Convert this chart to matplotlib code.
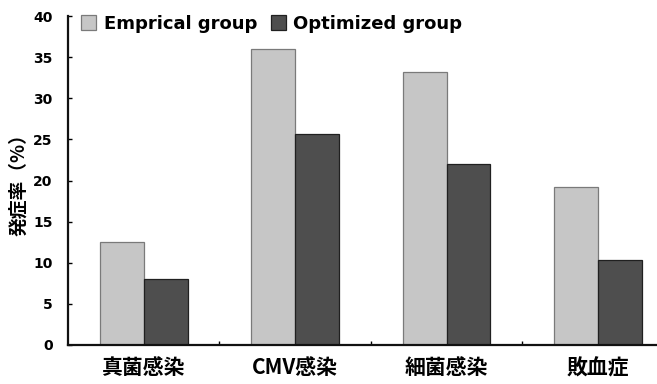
import numpy as np
import matplotlib
matplotlib.use("Agg")
import matplotlib.pyplot as plt
from matplotlib.patches import Patch

# incidence by infection type (%)
categories = ["真菌感染", "CMV感染", "細菌感染", "敗血症"]
empirical = [12.5, 36.0, 33.2, 19.2]
optimized = [8.0, 25.7, 22.0, 10.3]
series_names = ["Emprical group", "Optimized group"]
y_ticks = [0, 5, 10, 15, 20, 25, 30, 35, 40]

light = "#c6c6c6"
dark = "#4e4e4e"
cjk = ["Noto Sans CJK JP", "DejaVu Sans"]

fig = plt.figure(figsize=(6.57, 3.84), dpi=100)
ax = fig.add_axes([68 / 657, 39 / 384, 589 / 657, 329 / 384])

x = np.arange(len(categories))
w = 0.29
ax.bar(x - w / 2, empirical, w, color=light, edgecolor="#7a7a7a", linewidth=0.9)
ax.bar(x + w / 2, optimized, w, color=dark, edgecolor="#202020", linewidth=0.9)

ax.set_xlim(-0.5, 3.39)
ax.set_ylim(0, 40)

for side in ["top", "right"]:
    ax.spines[side].set_visible(False)
for side in ["left", "bottom"]:
    ax.spines[side].set_linewidth(1.6)
    ax.spines[side].set_color("#111111")

# y axis: short inward ticks, bold digits
ax.set_yticks(y_ticks)
ax.set_yticklabels([str(v) for v in y_ticks], fontfamily="DejaVu Sans",
                   fontweight="bold", fontsize=10)
ax.tick_params(axis="y", direction="in", length=3, width=1.0, pad=11)

# x axis: category labels without ticks, small separators between groups
ax.set_xticks(x)
ax.set_xticklabels(categories, fontfamily=cjk, fontsize=15, fontweight="bold")
ax.tick_params(axis="x", which="major", length=0, pad=9)
ax.set_xticks(x[:-1] + 0.5, minor=True)
ax.tick_params(axis="x", which="minor", direction="in", length=3, width=1.0)

ax.set_ylabel("発症率（%）", fontfamily=cjk, fontsize=13.5, fontweight="bold",
              labelpad=4)

handles = [Patch(facecolor=light, edgecolor="#7a7a7a", linewidth=0.9),
           Patch(facecolor=dark, edgecolor="#202020", linewidth=0.9)]
fig.legend(handles, series_names, loc="upper left",
           bbox_to_anchor=(72 / 657, 1 - 6 / 384), ncol=2, frameon=False,
           borderpad=0, handlelength=0.85, handleheight=0.9,
           handletextpad=0.4, columnspacing=0.75,
           prop={"family": "DejaVu Sans", "weight": "bold", "size": 13})

fig.savefig("out.png", dpi=100)
